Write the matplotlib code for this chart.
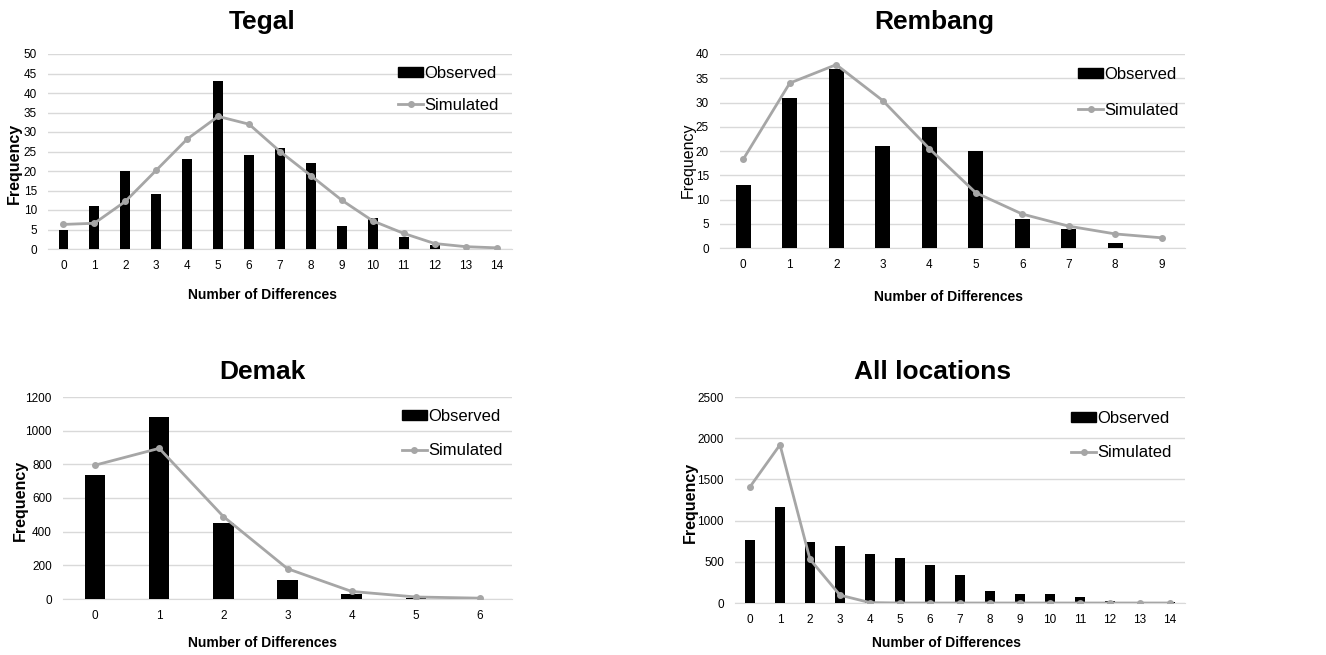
import matplotlib
matplotlib.use("Agg")
import matplotlib.pyplot as plt
from matplotlib.lines import Line2D
from matplotlib.patches import Patch

W, H = 1326, 655

# data
tegal_x = list(range(15))
tegal_obs = [5, 11, 20, 14, 23, 43, 24, 26, 22, 6, 8, 3, 1, 0, 0]
tegal_sim = [6.3, 6.6, 12.2, 20.2, 28.2, 34, 32, 25, 18.8, 12.5, 7.2, 4, 1.4, 0.6, 0.3]

rembang_x = list(range(10))
rembang_obs = [13, 31, 37, 21, 25, 20, 6, 4, 1, 0]
rembang_sim = [18.3, 34, 37.8, 30.4, 20.5, 11.4, 7, 4.5, 2.9, 2.1]

demak_x = list(range(7))
demak_obs = [735, 1080, 450, 110, 30, 5, 0]
demak_sim = [795, 895, 490, 180, 45, 12, 5]

all_x = list(range(15))
all_obs = [770, 1160, 735, 695, 595, 545, 460, 335, 145, 110, 110, 75, 20, 5, 10]
all_sim = [1410, 1920, 530, 95, 5, 0, 0, 0, 0, 0, 0, 0, 0, 0, 0]

GRAY = "#A6A6A6"
GRID = "#D9D9D9"
NARROW = ["Liberation Sans Narrow", "Liberation Sans", "DejaVu Sans"]
SANS = ["Liberation Sans", "DejaVu Sans"]

fig = plt.figure(figsize=(W / 100, H / 100), dpi=100)


def fx(px):
    return px / W


def fy(py):
    return 1 - py / H


def panel(box, x, obs, sim, ymax, ystep, title, title_xy, xlab_xy, ylab_xy,
          ylab_bold, leg_xy, leg_gap):
    l, t, r, b = box
    ax = fig.add_axes([fx(l), fy(b), fx(r - l), (b - t) / H])
    ax.bar(x, obs, width=0.32, color="black", zorder=3)
    ax.plot(x, sim, color=GRAY, lw=2.0, marker="o", ms=4, zorder=4)
    ax.set_xlim(-0.5, len(x) - 0.5)
    ax.set_ylim(0, ymax)
    ax.set_yticks(range(0, ymax + 1, ystep))
    ax.set_xticks(x)
    ax.grid(axis="y", color=GRID, lw=1, zorder=0)
    for s in ["top", "right", "left"]:
        ax.spines[s].set_visible(False)
    ax.spines["bottom"].set_color(GRID)
    ax.tick_params(length=0, labelsize=8.5, pad=8)
    for lab in ax.get_xticklabels() + ax.get_yticklabels():
        lab.set_family(NARROW)
    fig.text(fx(title_xy[0]), fy(title_xy[1]), title, ha="center", va="center",
             fontsize=19, fontweight="bold", family=SANS)
    fig.text(fx(xlab_xy[0]), fy(xlab_xy[1]), "Number of Differences",
             ha="center", va="center", fontsize=10, fontweight="bold", family=SANS)
    fig.text(fx(ylab_xy[0]), fy(ylab_xy[1]), "Frequency", ha="center", va="center",
             rotation=90, fontsize=11.5, family=SANS,
             fontweight="bold" if ylab_bold else "normal")
    handles = [Patch(color="black"),
               Line2D([], [], color=GRAY, lw=2.0, marker="o", ms=4)]
    ax.legend(handles, ["Observed", "Simulated"], loc="upper left",
              bbox_to_anchor=(fx(leg_xy[0]), fy(leg_xy[1])),
              bbox_transform=fig.transFigure, frameon=False,
              prop={"family": NARROW, "size": 12}, handlelength=1.5,
              handleheight=0.6, handletextpad=0.1, labelspacing=leg_gap,
              borderpad=0, borderaxespad=0)
    return ax


panel((48, 54, 512, 249), tegal_x, tegal_obs, tegal_sim, 50, 5, "Tegal",
      (262, 22), (262, 295), (14, 163), True, (398, 66), 1.0)
panel((720, 54, 1185, 248), rembang_x, rembang_obs, rembang_sim, 40, 5, "Rembang",
      (934, 22), (949, 297), (688, 160), False, (1078, 67), 1.25)
panel((63, 397, 512, 599), demak_x, demak_obs, demak_sim, 1200, 200, "Demak",
      (262, 372), (262, 643), (20, 500), True, (402, 409), 1.15)
panel((735, 397, 1185, 603), all_x, all_obs, all_sim, 2500, 500, "All locations",
      (933, 372), (946, 643), (690, 502), True, (1071, 411), 1.15)

fig.savefig("out.png", dpi=100)
